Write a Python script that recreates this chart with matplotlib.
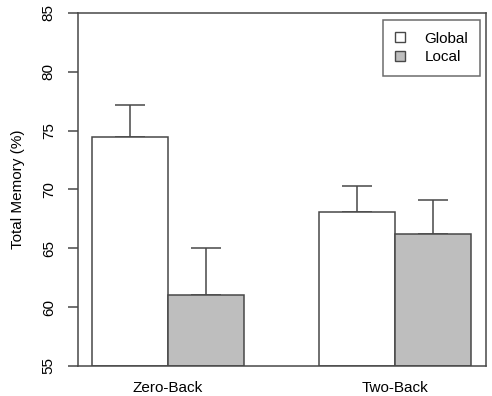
import matplotlib.pyplot as plt
from matplotlib.patches import Patch
import numpy as np

plt.rcParams['font.family'] = ['Liberation Sans', 'DejaVu Sans']

# Data
conditions = ['Zero-Back', 'Two-Back']
global_mean = [74.5, 68.1]
local_mean = [61.0, 66.2]
global_err = [2.7, 2.2]
local_err = [4.0, 2.9]

edge = '#484848'

fig = plt.figure(figsize=(4.92, 3.96), dpi=100)
ax = fig.add_axes([0.1585, 0.0758, 0.8293, 0.8914])

# R-style grouped barplot: bars of width 1, one unit gap between groups
x = np.array([1.0, 4.0])
width = 1.0
base = 55

ax.bar(x, np.array(global_mean) - base, width, bottom=base, align='edge',
       color='white', edgecolor=edge, linewidth=1.1, zorder=2)
ax.bar(x + width, np.array(local_mean) - base, width, bottom=base, align='edge',
       color='#bebebe', edgecolor=edge, linewidth=1.1, zorder=2)

# upper-only error bars
ax.errorbar(x + width / 2, global_mean, yerr=[np.zeros(2), global_err],
            fmt='none', ecolor=edge, elinewidth=1.1, capsize=10.8, capthick=1.1, zorder=1)
ax.errorbar(x + 1.5 * width, local_mean, yerr=[np.zeros(2), local_err],
            fmt='none', ecolor=edge, elinewidth=1.1, capsize=10.8, capthick=1.1, zorder=1)

ax.set_xlim(1 - 14 / 76.7, 6 + 15 / 76.7)
ax.set_ylim(55, 85)
ax.set_yticks([55, 60, 65, 70, 75, 80, 85])
ax.set_yticklabels([str(v) for v in [55, 60, 65, 70, 75, 80, 85]],
                   rotation=90, va='center', fontsize=11)
ax.tick_params(axis='y', length=7, width=1.1, color=edge, pad=9)
ax.set_xticks(x + width)
ax.set_xticklabels(conditions, fontsize=11)
ax.tick_params(axis='x', length=0, pad=11)

for s in ax.spines.values():
    s.set_color(edge)
    s.set_linewidth(1.1)

ax.set_ylabel('Total Memory (%)', fontsize=11, labelpad=12)

handles = [Patch(facecolor='white', edgecolor=edge, label='Global'),
           Patch(facecolor='#bebebe', edgecolor=edge, label='Local')]
leg = ax.legend(handles=handles, loc='upper right', bbox_to_anchor=(0.985, 0.98),
                borderaxespad=0, fontsize=11, frameon=True, fancybox=False,
                handlelength=0.65, handleheight=0.65, handletextpad=1.3,
                borderpad=0.75, labelspacing=0.3)
leg.get_frame().set_edgecolor(edge)
leg.get_frame().set_linewidth(1.1)

fig.savefig('out.png', dpi=100)
